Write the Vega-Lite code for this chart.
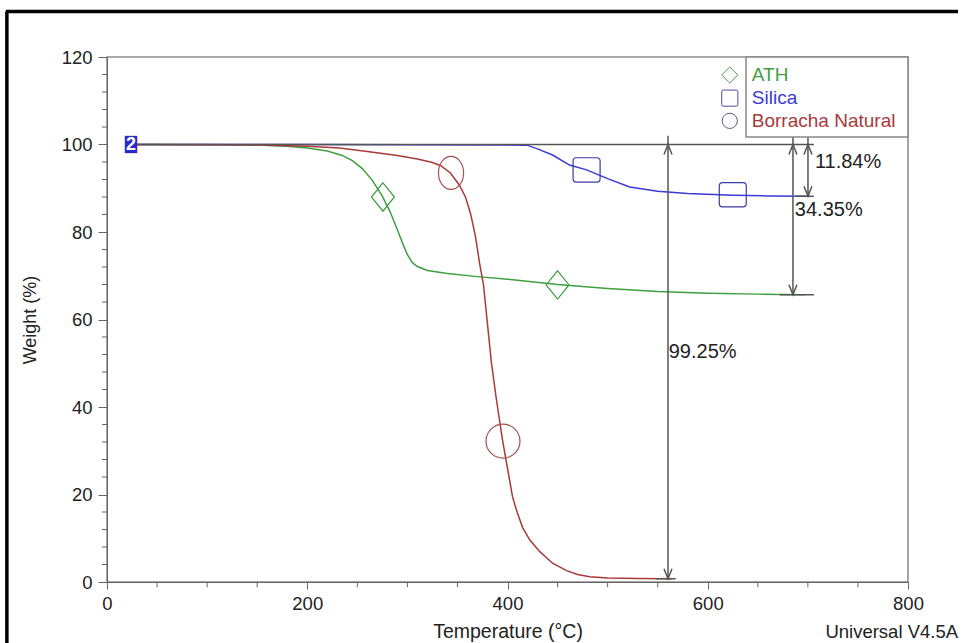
{
  "$schema": "https://vega.github.io/schema/vega-lite/v6.json",
  "width": 801,
  "height": 525,
  "autosize": {"type": "none"},
  "padding": {"left": 107, "top": 57, "right": 53, "bottom": 61},
  "background": "white",
  "config": {
    "view": {"stroke": "#8a8a8a", "strokeWidth": 1.5},
    "font": "Liberation Sans",
    "axis": {"grid": false, "domainColor": "#666", "tickColor": "#666", "tickWidth": 1, "labelFont": "Liberation Sans", "labelFontSize": 18.5, "labelColor": "#222", "titleFont": "Liberation Sans", "titleFontWeight": "normal", "titleColor": "#222"}
  },
  "datasets": {
    "curves": [
      {"series": "ATH", "T": 21, "w": 100}, {"series": "ATH", "T": 100, "w": 100}, {"series": "ATH", "T": 150, "w": 99.9}, {"series": "ATH", "T": 180, "w": 99.6}, {"series": "ATH", "T": 200, "w": 99.2}, {"series": "ATH", "T": 220, "w": 98.5}, {"series": "ATH", "T": 235, "w": 97.5}, {"series": "ATH", "T": 245, "w": 96.3}, {"series": "ATH", "T": 255, "w": 94.5}, {"series": "ATH", "T": 265, "w": 91.8}, {"series": "ATH", "T": 275, "w": 88.2}, {"series": "ATH", "T": 283, "w": 84.5}, {"series": "ATH", "T": 290, "w": 80.5}, {"series": "ATH", "T": 296, "w": 77}, {"series": "ATH", "T": 300, "w": 74.8}, {"series": "ATH", "T": 305, "w": 73.0}, {"series": "ATH", "T": 310, "w": 72.1}, {"series": "ATH", "T": 320, "w": 71.2}, {"series": "ATH", "T": 340, "w": 70.5}, {"series": "ATH", "T": 370, "w": 69.8}, {"series": "ATH", "T": 400, "w": 69.2}, {"series": "ATH", "T": 450, "w": 68.0}, {"series": "ATH", "T": 500, "w": 67.1}, {"series": "ATH", "T": 550, "w": 66.4}, {"series": "ATH", "T": 600, "w": 66.0}, {"series": "ATH", "T": 650, "w": 65.8}, {"series": "ATH", "T": 697, "w": 65.65},
      {"series": "Silica", "T": 21, "w": 100}, {"series": "Silica", "T": 200, "w": 100}, {"series": "Silica", "T": 400, "w": 99.9}, {"series": "Silica", "T": 420, "w": 99.8}, {"series": "Silica", "T": 430, "w": 99.0}, {"series": "Silica", "T": 445, "w": 97.6}, {"series": "Silica", "T": 462, "w": 95.3}, {"series": "Silica", "T": 479, "w": 94.2}, {"series": "Silica", "T": 500, "w": 92.2}, {"series": "Silica", "T": 522, "w": 90.3}, {"series": "Silica", "T": 550, "w": 89.3}, {"series": "Silica", "T": 580, "w": 88.8}, {"series": "Silica", "T": 625, "w": 88.4}, {"series": "Silica", "T": 660, "w": 88.25}, {"series": "Silica", "T": 702, "w": 88.16},
      {"series": "Borracha Natural", "T": 21, "w": 100}, {"series": "Borracha Natural", "T": 150, "w": 99.9}, {"series": "Borracha Natural", "T": 200, "w": 99.6}, {"series": "Borracha Natural", "T": 232, "w": 99.2}, {"series": "Borracha Natural", "T": 260, "w": 98.4}, {"series": "Borracha Natural", "T": 290, "w": 97.5}, {"series": "Borracha Natural", "T": 310, "w": 96.7}, {"series": "Borracha Natural", "T": 325, "w": 95.9}, {"series": "Borracha Natural", "T": 333, "w": 95.2}, {"series": "Borracha Natural", "T": 343, "w": 93.5}, {"series": "Borracha Natural", "T": 352, "w": 90.7}, {"series": "Borracha Natural", "T": 358, "w": 88}, {"series": "Borracha Natural", "T": 363, "w": 84.3}, {"series": "Borracha Natural", "T": 368, "w": 79}, {"series": "Borracha Natural", "T": 372, "w": 73}, {"series": "Borracha Natural", "T": 376, "w": 68}, {"series": "Borracha Natural", "T": 380, "w": 59}, {"series": "Borracha Natural", "T": 384, "w": 50}, {"series": "Borracha Natural", "T": 389, "w": 41.6}, {"series": "Borracha Natural", "T": 395, "w": 32.5}, {"series": "Borracha Natural", "T": 400, "w": 26}, {"series": "Borracha Natural", "T": 405, "w": 19.5}, {"series": "Borracha Natural", "T": 409, "w": 16.4}, {"series": "Borracha Natural", "T": 415, "w": 12.5}, {"series": "Borracha Natural", "T": 422, "w": 9.7}, {"series": "Borracha Natural", "T": 432, "w": 7.0}, {"series": "Borracha Natural", "T": 445, "w": 4.3}, {"series": "Borracha Natural", "T": 459, "w": 2.6}, {"series": "Borracha Natural", "T": 470, "w": 1.7}, {"series": "Borracha Natural", "T": 482, "w": 1.2}, {"series": "Borracha Natural", "T": 500, "w": 0.9}, {"series": "Borracha Natural", "T": 530, "w": 0.8}, {"series": "Borracha Natural", "T": 564, "w": 0.75}
    ],
    "markers": [
      {"series": "ATH", "T": 275.6, "w": 88.0}, {"series": "ATH", "T": 450, "w": 67.9},
      {"series": "Silica", "T": 479, "w": 94.2}, {"series": "Silica", "T": 625, "w": 88.5},
      {"series": "Borracha Natural", "T": 343.6, "w": 93.5}, {"series": "Borracha Natural", "T": 395.5, "w": 32.2}
    ],
    "hlines": [
      {"T0": 30, "T1": 706, "w": 100}, {"T0": 548, "T1": 568, "w": 0.75}, {"T0": 672, "T1": 706, "w": 65.65}, {"T0": 688, "T1": 706, "w": 88.16}
    ],
    "arrows": [
      {"T": 560.3, "top": 100, "bot": 0.75}, {"T": 685.1, "top": 100, "bot": 65.65}, {"T": 700.1, "top": 100, "bot": 88.16}
    ],
    "labels": [
      {"T": 561, "w": 52.6, "text": "99.25%"}, {"T": 687, "w": 85.0, "text": "34.35%"}, {"T": 707, "w": 96.0, "text": "11.84%"}
    ],
    "legend": [
      {"series": "ATH", "T": 622, "tx": 644, "w": 115.9}, {"series": "Silica", "T": 622, "tx": 644, "w": 110.6}, {"series": "Borracha Natural", "T": 622, "tx": 644, "w": 105.4}
    ],
    "legendbox": [{"x0": 638.2, "x1": 800, "y0": 120, "y1": 101.7}],
    "frame": [{"x0": -101, "x1": 850, "y": 130.4}],
    "frameLeft": [{"x": -100, "y0": -16, "y1": 130.4}],
    "badge": [{"T": 24, "w": 100, "text": "2"}],
    "footer": [{"T": 850, "w": -11.4, "text": "Universal V4.5A"}],
    "yminor": [{"v": 4}, {"v": 8}, {"v": 12}, {"v": 16}, {"v": 24}, {"v": 28}, {"v": 32}, {"v": 36}, {"v": 44}, {"v": 48}, {"v": 52}, {"v": 56}, {"v": 64}, {"v": 68}, {"v": 72}, {"v": 76}, {"v": 84}, {"v": 88}, {"v": 92}, {"v": 96}, {"v": 104}, {"v": 108}, {"v": 112}, {"v": 116}],
    "xminor": [{"v": 50}, {"v": 100}, {"v": 150}, {"v": 250}, {"v": 300}, {"v": 350}, {"v": 450}, {"v": 500}, {"v": 550}, {"v": 650}, {"v": 700}, {"v": 750}]
  },
  "layer": [
    {
      "data": {"name": "curves"},
      "mark": {"type": "line", "strokeWidth": 1.5},
      "encoding": {
        "x": {"field": "T", "type": "quantitative", "scale": {"domain": [0, 800], "nice": false, "zero": false}, "title": "Temperature (°C)",
          "axis": {"values": [0, 200, 400, 600, 800], "tickSize": 7, "labelPadding": 5, "titlePadding": 10, "titleFontSize": 19.5, "labelFlush": false}},
        "y": {"field": "w", "type": "quantitative", "scale": {"domain": [0, 120], "nice": false}, "title": "Weight (%)",
          "axis": {"values": [0, 20, 40, 60, 80, 100, 120], "tickSize": 9, "labelPadding": 6, "titlePadding": 22, "titleFontSize": 18, "labelFlush": false}},
        "color": {"field": "series", "type": "nominal", "scale": {"domain": ["ATH", "Silica", "Borracha Natural"], "range": ["#3f9f3f", "#3a3ad8", "#a83a3a"]}, "legend": null},
        "order": {"field": "T", "type": "quantitative"}
      }
    },
    {
      "data": {"name": "yminor"},
      "mark": {"type": "rule", "color": "#666", "strokeWidth": 1, "clip": false},
      "encoding": {"y": {"field": "v", "type": "quantitative"}, "x": {"datum": -5}, "x2": {"datum": 1}}
    },
    {
      "data": {"name": "xminor"},
      "mark": {"type": "rule", "color": "#666", "strokeWidth": 1, "clip": false},
      "encoding": {"x": {"field": "v", "type": "quantitative"}, "y": {"datum": 0}, "y2": {"datum": -1.2}}
    },
    {
      "data": {"name": "hlines"},
      "mark": {"type": "rule", "color": "#555", "strokeWidth": 1.5},
      "encoding": {"x": {"field": "T0", "type": "quantitative"}, "x2": {"field": "T1"}, "y": {"field": "w", "type": "quantitative"}}
    },
    {
      "data": {"name": "arrows"},
      "mark": {"type": "rule", "color": "#555", "strokeWidth": 1.5},
      "encoding": {"x": {"field": "T", "type": "quantitative"}, "y": {"field": "bot", "type": "quantitative"}, "y2": {"datum": 102}}
    },
    {
      "data": {"name": "arrows"},
      "mark": {"type": "point", "shape": "M-0.4,1L0,0L0.4,1", "filled": false, "stroke": "#555", "strokeWidth": 1.5, "size": 400, "opacity": 1},
      "encoding": {"x": {"field": "T", "type": "quantitative"}, "y": {"field": "top", "type": "quantitative"}}
    },
    {
      "data": {"name": "arrows"},
      "mark": {"type": "point", "shape": "M-0.4,-1L0,0L0.4,-1", "filled": false, "stroke": "#555", "strokeWidth": 1.5, "size": 400, "opacity": 1},
      "encoding": {"x": {"field": "T", "type": "quantitative"}, "y": {"field": "bot", "type": "quantitative"}}
    },
    {
      "data": {"name": "labels"},
      "mark": {"type": "text", "align": "left", "baseline": "middle", "fontSize": 20, "color": "#222", "font": "Liberation Sans"},
      "encoding": {"x": {"field": "T", "type": "quantitative"}, "y": {"field": "w", "type": "quantitative"}, "text": {"field": "text"}}
    },
    {
      "data": {"name": "markers"},
      "transform": [{"filter": "datum.series === 'ATH'"}],
      "mark": {"type": "point", "shape": "M0,-1.05L0.85,0L0,1.05L-0.85,0Z", "filled": false, "size": 729, "strokeWidth": 1.2, "color": "#3f9f3f", "opacity": 1},
      "encoding": {"x": {"field": "T", "type": "quantitative"}, "y": {"field": "w", "type": "quantitative"}}
    },
    {
      "data": {"name": "markers"},
      "transform": [{"filter": "datum.series === 'Silica'"}],
      "mark": {"type": "point", "shape": "M-0.75,-0.9L0.75,-0.9Q1,-0.9 1,-0.65L1,0.65Q1,0.9 0.75,0.9L-0.75,0.9Q-1,0.9 -1,0.65L-1,-0.65Q-1,-0.9 -0.75,-0.9Z", "filled": false, "size": 729, "strokeWidth": 1.2, "color": "#3a3aa8", "opacity": 1},
      "encoding": {"x": {"field": "T", "type": "quantitative"}, "y": {"field": "w", "type": "quantitative"}}
    },
    {
      "data": {"name": "markers"},
      "transform": [{"filter": "datum.series === 'Borracha Natural' && datum.T < 370"}],
      "mark": {"type": "point", "shape": "M0,-1.25A0.95,1.25 0 1,1 0,1.25A0.95,1.25 0 1,1 0,-1.25Z", "filled": false, "size": 700, "strokeWidth": 1.2, "color": "#a85050", "opacity": 1},
      "encoding": {"x": {"field": "T", "type": "quantitative"}, "y": {"field": "w", "type": "quantitative"}}
    },
    {
      "data": {"name": "markers"},
      "transform": [{"filter": "datum.series === 'Borracha Natural' && datum.T > 370"}],
      "mark": {"type": "point", "shape": "circle", "filled": false, "size": 1150, "strokeWidth": 1.2, "color": "#a85050", "opacity": 1},
      "encoding": {"x": {"field": "T", "type": "quantitative"}, "y": {"field": "w", "type": "quantitative"}}
    },
    {
      "data": {"name": "legendbox"},
      "mark": {"type": "rect", "fill": "white", "stroke": "#888", "strokeWidth": 1.5},
      "encoding": {"x": {"field": "x0", "type": "quantitative"}, "x2": {"field": "x1"}, "y": {"field": "y0", "type": "quantitative"}, "y2": {"field": "y1"}}
    },
    {
      "data": {"name": "legend"},
      "transform": [{"filter": "datum.series === 'ATH'"}],
      "mark": {"type": "point", "shape": "diamond", "filled": false, "size": 260, "strokeWidth": 1, "color": "#4f9a4f", "opacity": 1, "clip": false},
      "encoding": {"x": {"field": "T", "type": "quantitative"}, "y": {"field": "w", "type": "quantitative"}}
    },
    {
      "data": {"name": "legend"},
      "transform": [{"filter": "datum.series === 'Silica'"}],
      "mark": {"type": "point", "shape": "M-0.8,-1L0.8,-1Q1,-1 1,-0.8L1,0.8Q1,1 0.8,1L-0.8,1Q-1,1 -1,0.8L-1,-0.8Q-1,-1 -0.8,-1Z", "filled": false, "size": 260, "strokeWidth": 1, "color": "#4a4aa0", "opacity": 1, "clip": false},
      "encoding": {"x": {"field": "T", "type": "quantitative"}, "y": {"field": "w", "type": "quantitative"}}
    },
    {
      "data": {"name": "legend"},
      "transform": [{"filter": "datum.series === 'Borracha Natural'"}],
      "mark": {"type": "point", "shape": "circle", "filled": false, "size": 230, "strokeWidth": 1, "color": "#5a5a80", "opacity": 1, "clip": false},
      "encoding": {"x": {"field": "T", "type": "quantitative"}, "y": {"field": "w", "type": "quantitative"}}
    },
    {
      "data": {"name": "legend"},
      "mark": {"type": "text", "align": "left", "baseline": "middle", "fontSize": 19, "font": "Liberation Sans"},
      "encoding": {"x": {"field": "tx", "type": "quantitative"}, "y": {"field": "w", "type": "quantitative"}, "text": {"field": "series"},
        "color": {"field": "series", "type": "nominal", "scale": {"domain": ["ATH", "Silica", "Borracha Natural"], "range": ["#3f9f3f", "#3a3ad8", "#a83a3a"]}, "legend": null}}
    },
    {
      "data": {"name": "badge"},
      "mark": {"type": "point", "shape": "M-0.72,-1L0.72,-1L0.72,1L-0.72,1Z", "filled": true, "color": "#2b2bc8", "size": 300, "opacity": 1},
      "encoding": {"x": {"field": "T", "type": "quantitative"}, "y": {"field": "w", "type": "quantitative"}}
    },
    {
      "data": {"name": "badge"},
      "mark": {"type": "text", "align": "center", "baseline": "middle", "fontSize": 18, "fontWeight": "bold", "color": "white", "font": "Liberation Sans"},
      "encoding": {"x": {"field": "T", "type": "quantitative"}, "y": {"field": "w", "type": "quantitative"}, "text": {"field": "text"}}
    },
    {
      "data": {"name": "footer"},
      "mark": {"type": "text", "align": "right", "baseline": "middle", "fontSize": 18.5, "color": "#222", "font": "Liberation Sans", "clip": false},
      "encoding": {"x": {"field": "T", "type": "quantitative"}, "y": {"field": "w", "type": "quantitative"}, "text": {"field": "text"}}
    },
    {
      "data": {"name": "frame"},
      "mark": {"type": "rule", "color": "black", "strokeWidth": 3.5, "clip": false},
      "encoding": {"x": {"field": "x0", "type": "quantitative"}, "x2": {"field": "x1"}, "y": {"field": "y", "type": "quantitative"}}
    },
    {
      "data": {"name": "frameLeft"},
      "mark": {"type": "rule", "color": "black", "strokeWidth": 3.5, "clip": false},
      "encoding": {"x": {"field": "x", "type": "quantitative"}, "y": {"field": "y0", "type": "quantitative"}, "y2": {"field": "y1"}}
    }
  ]
}
